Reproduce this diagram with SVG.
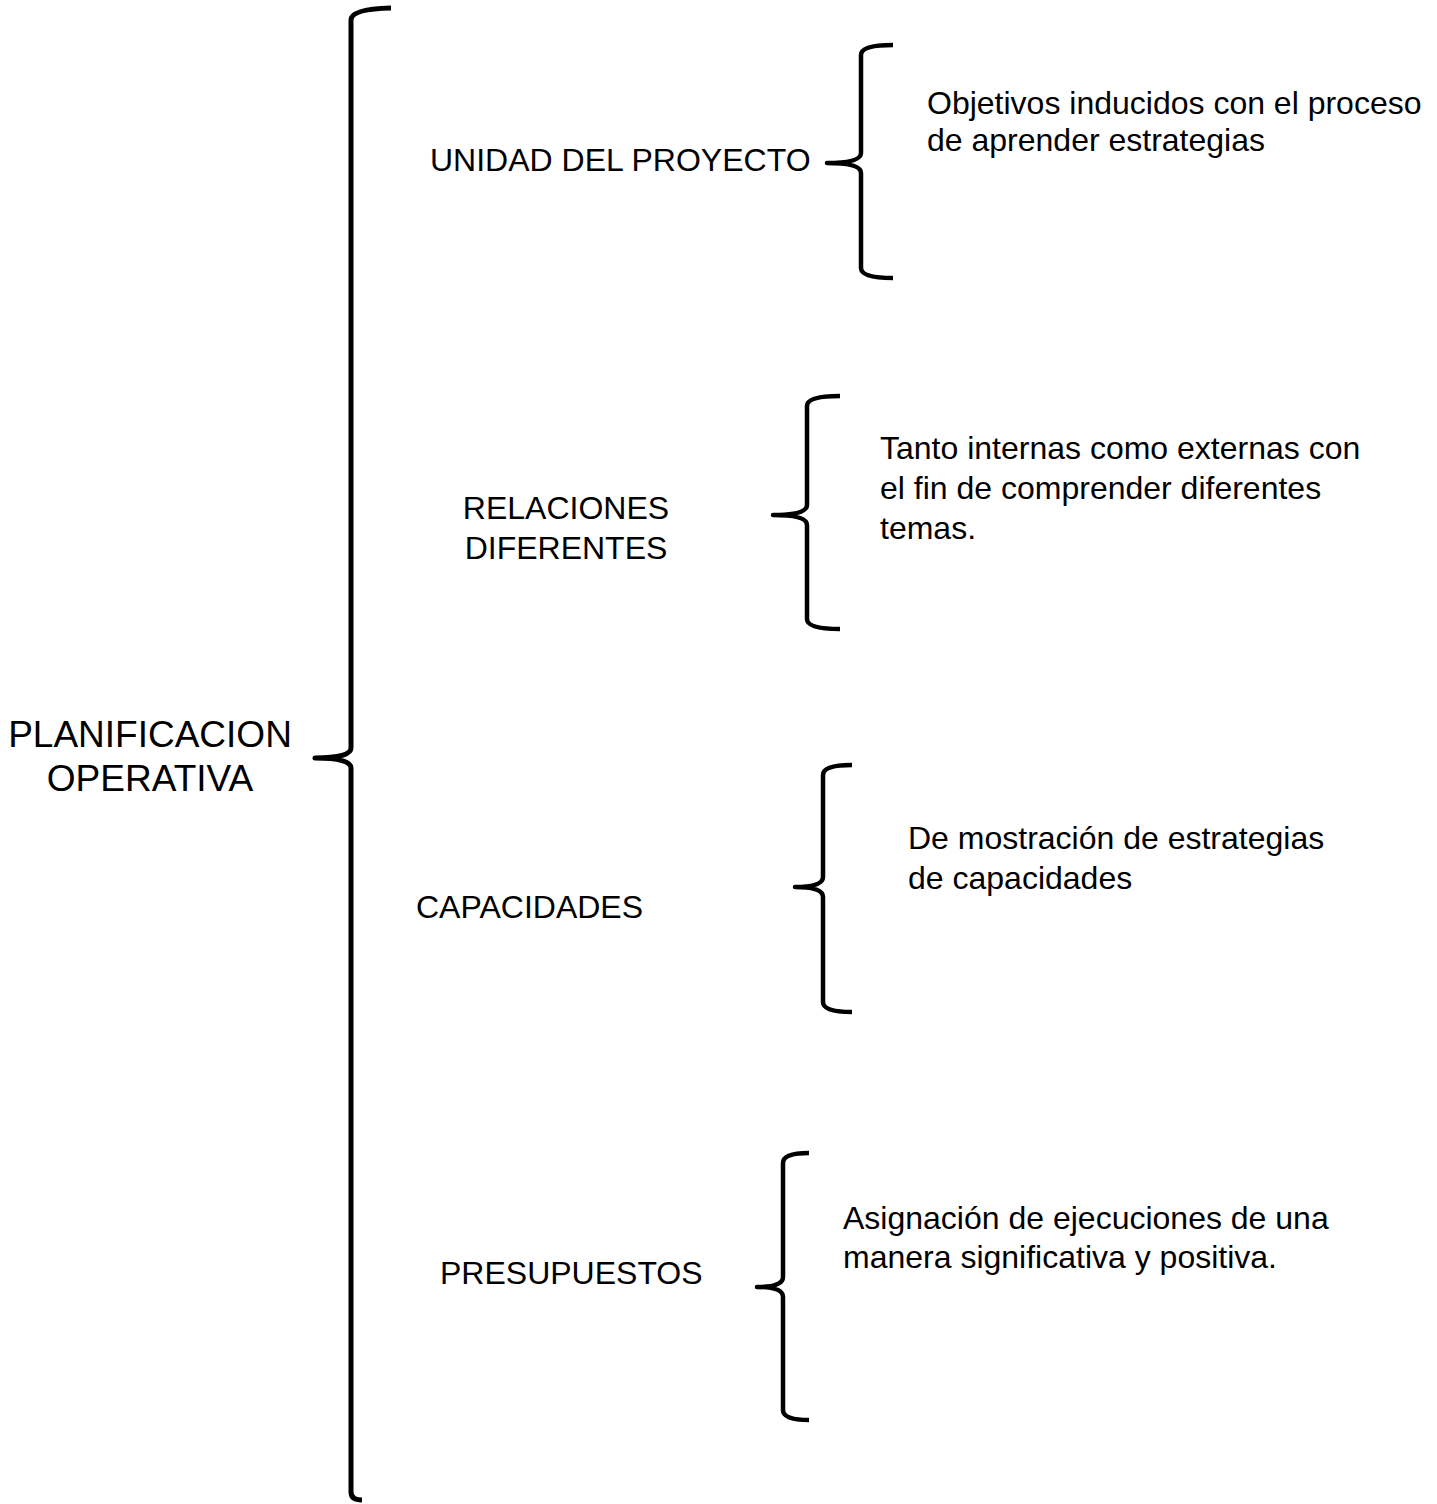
<svg xmlns="http://www.w3.org/2000/svg" width="1437" height="1504" viewBox="0 0 1437 1504">
<style>
.br{fill:none;stroke:#000;stroke-width:4.5;stroke-linecap:butt;stroke-linejoin:round}
.t{font-family:"Liberation Sans",Arial,sans-serif;font-size:32px;fill:#000}
.h{font-family:"Liberation Sans",Arial,sans-serif;font-size:37px;fill:#000}
</style>
<rect width="1437" height="1504" fill="#fff"/>
<g id="connectors">
<path class="br" style="stroke-width:5" d="M391 8 Q351 9 351 20 L351 748 Q351 758 315 758 Q351 758 351 768 L351 1492 Q351 1500 362 1500"/>
<path class="br" d="M893 45 Q861 45 861 55 L861 153 Q861 163 827 163 Q861 163 861 173 L861 268 Q861 278 893 278"/>
<path class="br" d="M840 396 Q807 396 807 406 L807 505 Q807 515 773 515 Q807 515 807 525 L807 619 Q807 629 840 629"/>
<path class="br" d="M852 765 Q823 765 823 775 L823 877 Q823 887 795 887 Q823 887 823 897 L823 1002 Q823 1012 852 1012"/>
<path class="br" d="M809 1153 Q783 1153 783 1163 L783 1277 Q783 1287 757 1287 Q783 1287 783 1297 L783 1410 Q783 1420 809 1420"/>
</g>
<g id="root"><text class="h" text-anchor="middle"><tspan x="150" y="747">PLANIFICACION</tspan><tspan x="150" y="791">OPERATIVA</tspan></text></g>
<g id="unidad"><text class="t" x="430" y="171">UNIDAD DEL PROYECTO</text></g>
<g id="unidad-desc"><text class="t"><tspan x="927" y="114">Objetivos inducidos con el proceso</tspan><tspan x="927" y="151">de aprender estrategias</tspan></text></g>
<g id="relaciones"><text class="t" text-anchor="middle"><tspan x="566" y="519">RELACIONES</tspan><tspan x="566" y="559">DIFERENTES</tspan></text></g>
<g id="relaciones-desc"><text class="t"><tspan x="880" y="459">Tanto internas como externas con</tspan><tspan x="880" y="499">el fin de comprender diferentes</tspan><tspan x="880" y="539">temas.</tspan></text></g>
<g id="capacidades"><text class="t" x="416" y="918">CAPACIDADES</text></g>
<g id="capacidades-desc"><text class="t"><tspan x="908" y="849">De mostración de estrategias</tspan><tspan x="908" y="889">de capacidades</tspan></text></g>
<g id="presupuestos"><text class="t" x="440" y="1284">PRESUPUESTOS</text></g>
<g id="presupuestos-desc"><text class="t"><tspan x="843" y="1229">Asignación de ejecuciones de una</tspan><tspan x="843" y="1268">manera significativa y positiva.</tspan></text></g>
</svg>
